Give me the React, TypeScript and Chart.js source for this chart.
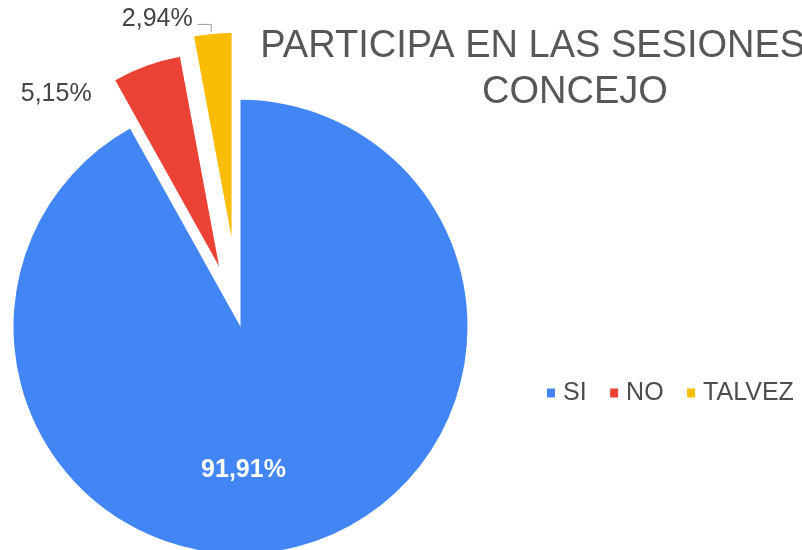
import React, { useEffect, useRef } from "react";
import { Chart, registerables } from "chart.js";

Chart.register(...registerables);

// ---- data ----
const categories = ["SI", "NO", "TALVEZ"];
const values = [91.91, 5.15, 2.94];
const valueLabels = ["91,91%", "5,15%", "2,94%"];
const titleLines = ["PARTICIPA EN LAS SESIONES DEL", "CONCEJO"];

// ---- styles ----
const colors = ["#4285F4", "#EA4335", "#FBBC04"];
const sliceShift = [4, 60, 86];
const sliceRadiusRatio = [1, 0.94, 0.9];
const BASE_R = 227;
const FONT = '"Liberation Sans", Arial, Helvetica, sans-serif';

// explode slices: move each arc outward along its mid-angle and set its radius
const explodePlugin = {
  id: "explode",
  beforeDatasetsDraw(chart: any) {
    const area = chart.chartArea;
    const cx = (area.left + area.right) / 2;
    const cy = (area.top + area.bottom) / 2;
    const meta = chart.getDatasetMeta(0);
    meta.data.forEach((el: any, i: number) => {
      const mid = (el.startAngle + el.endAngle) / 2;
      el.x = cx + Math.cos(mid) * sliceShift[i];
      el.y = cy + Math.sin(mid) * sliceShift[i];
      el.outerRadius = BASE_R * sliceRadiusRatio[i];
    });
  },
};

const textPlugin = {
  id: "texts",
  afterDraw(chart: any) {
    const ctx = chart.ctx as CanvasRenderingContext2D;
    const meta = chart.getDatasetMeta(0);
    ctx.save();
    // title
    ctx.font = `38px ${FONT}`;
    ctx.fillStyle = "#575757";
    ctx.textAlign = "center";
    ctx.textBaseline = "alphabetic";
    ctx.fillText(titleLines[0], 575, 57);
    ctx.fillText(titleLines[1], 575, 103);

    // slice labels
    meta.data.forEach((el: any, i: number) => {
      const mid = (el.startAngle + el.endAngle) / 2;
      const r = el.outerRadius;
      if (i === 0) {
        ctx.font = `bold 25px ${FONT}`;
        ctx.fillStyle = "#ffffff";
        ctx.textAlign = "center";
        ctx.textBaseline = "alphabetic";
        ctx.fillText(valueLabels[i], el.x + 3, el.y + r * 0.62 + 9);
      } else {
        const ox = el.x + Math.cos(mid) * r;
        const oy = el.y + Math.sin(mid) * r;
        ctx.font = `25px ${FONT}`;
        ctx.fillStyle = "#444444";
        ctx.textAlign = "right";
        ctx.textBaseline = "alphabetic";
        if (i === 1) {
          ctx.fillText(valueLabels[i], ox - 55, oy + 35);
        } else {
          ctx.fillText(valueLabels[i], ox - 20, oy - 8);
          ctx.strokeStyle = "#9e9e9e";
          ctx.lineWidth = 1;
          ctx.beginPath();
          ctx.moveTo(ox - 15, oy - 9.5);
          ctx.lineTo(ox - 1.5, oy - 9.5);
          ctx.lineTo(ox - 1.5, oy - 2);
          ctx.stroke();
        }
      }
    });

    // legend
    ctx.font = `25px ${FONT}`;
    ctx.textAlign = "left";
    ctx.textBaseline = "middle";
    let x = 547;
    const y = 393;
    categories.forEach((c, i) => {
      ctx.fillStyle = colors[i];
      ctx.fillRect(x, y - 4.5, 8, 9);
      ctx.fillStyle = "#4d4d4d";
      ctx.fillText(c, x + 16, y);
      x += 16 + ctx.measureText(c).width + 23.5;
    });
    ctx.restore();
  },
};

export default function App() {
  const ref = useRef<HTMLCanvasElement | null>(null);
  useEffect(() => {
    if (!ref.current) return;
    const chart = new Chart(ref.current, {
      type: "pie",
      data: {
        labels: categories,
        datasets: [
          {
            data: values,
            backgroundColor: colors,
            borderWidth: 0,
            radius: BASE_R,
            clip: false,
          } as any,
        ],
      },
      options: {
        responsive: false,
        animation: false,
        events: [],
        layout: { padding: { left: 0, right: 323, top: 96, bottom: 0 } },
        plugins: {
          legend: { display: false },
          title: { display: false },
          tooltip: { enabled: false },
        },
      } as any,
      plugins: [explodePlugin, textPlugin],
    });
    return () => chart.destroy();
  }, []);
  return (
    <div style={{ position: "fixed", left: 0, top: 0, width: 802, height: 550, background: "#fff" }}>
      <canvas ref={ref} width={802} height={550} style={{ display: "block" }} />
    </div>
  );
}
